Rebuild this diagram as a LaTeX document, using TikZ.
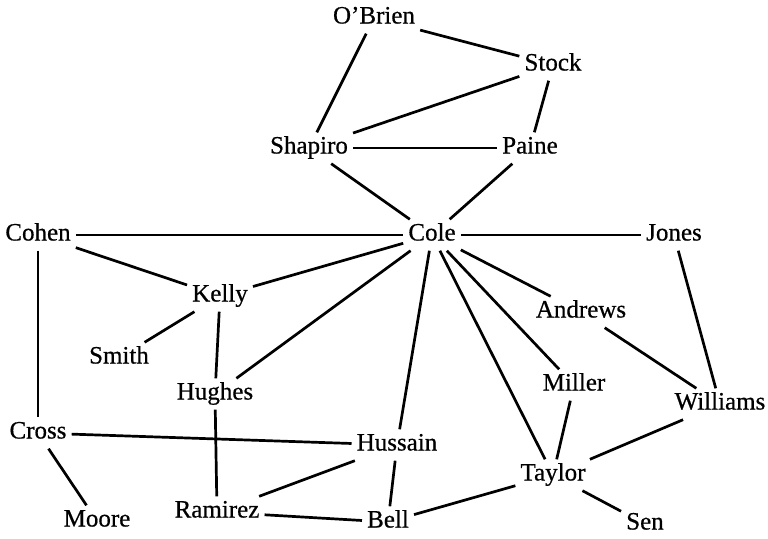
\documentclass[tikz,border=0pt]{standalone}
\usepackage{fontspec}
\setmainfont{Liberation Serif}[FakeBold=0.6]
\begin{document}
\begin{tikzpicture}[x=1pt,y=-1pt,
  person/.style={font=\fontsize{25}{27}\selectfont, inner sep=5pt, text height=16pt, text depth=5pt},
  tie/.style={line width=2.7pt, line cap=butt}]
\useasboundingbox (0,0) rectangle (768,538);
\node[person] (obrien) at (374,18) {O'Brien};
\node[person] (stock) at (553,65) {Stock};
\node[person] (shapiro) at (309,148) {Shapiro};
\node[person] (paine) at (530,148) {Paine};
\node[person] (cole) at (432,235) {Cole};
\node[person] (cohen) at (38,235) {Cohen};
\node[person] (jones) at (674,235) {Jones};
\node[person] (kelly) at (220,296) {Kelly};
\node[person] (andrews) at (581,312) {Andrews};
\node[person] (smith) at (119,358) {Smith};
\node[person] (hughes) at (215,394) {Hughes};
\node[person] (miller) at (574,385) {Miller};
\node[person] (williams) at (720,404) {Williams};
\node[person] (cross) at (38,433) {Cross};
\node[person] (hussain) at (397,445) {Hussain};
\node[person] (taylor) at (553,475) {Taylor};
\node[person] (moore) at (97,521) {Moore};
\node[person] (ramirez) at (217,512) {Ramirez};
\node[person] (bell) at (388,522) {Bell};
\node[person] (sen) at (645,524) {Sen};
\foreach \a/\b in {obrien/stock, obrien/shapiro, stock/shapiro, stock/paine,
  shapiro/paine, shapiro/cole, paine/cole, cohen/cole, cole/jones,
  cohen/kelly, cohen/cross, cole/kelly, cole/hughes, cole/hussain,
  cole/taylor, cole/miller, cole/andrews, kelly/smith, kelly/hughes,
  hughes/ramirez, cross/hussain, cross/moore, hussain/ramirez, hussain/bell,
  ramirez/bell, bell/taylor, taylor/miller, taylor/williams, taylor/sen,
  andrews/williams, jones/williams}
  \draw[tie] (\a) -- (\b);
\end{tikzpicture}
\end{document}
